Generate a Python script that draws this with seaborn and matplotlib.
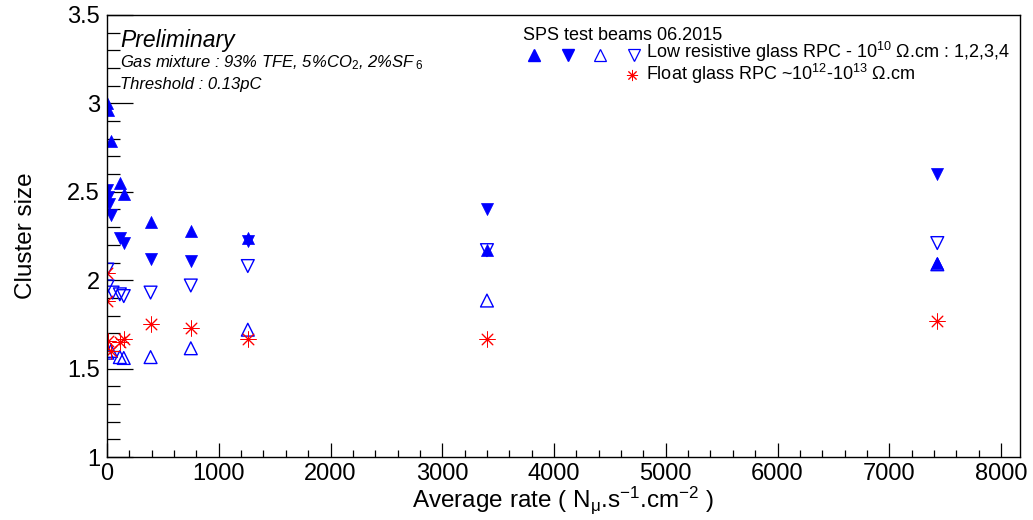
import numpy as np
import pandas as pd
import matplotlib
matplotlib.use('Agg')
import matplotlib.pyplot as plt
import seaborn as sns
from matplotlib.ticker import MultipleLocator, FormatStrFormatter

# Данные
rate_rpc1 = [3, 10, 35, 115, 150, 390, 750, 1260, 3400, 7430]
size_rpc1 = [3.00, 2.96, 2.79, 2.55, 2.49, 2.33, 2.28, 2.24, 2.17, 2.10]

rate_rpc2 = [3, 5, 18, 35, 115, 150, 390, 750, 1260, 3400, 7430]
size_rpc2 = [2.51, 2.47, 2.43, 2.37, 2.24, 2.21, 2.12, 2.11, 2.22, 2.40, 2.60]

rate_rpc3 = [3, 35, 115, 150, 390, 750, 1260, 3400, 7430]
size_rpc3 = [1.59, 1.60, 1.565, 1.56, 1.565, 1.615, 1.72, 1.885, 2.09]

rate_rpc4 = [3, 5, 50, 115, 150, 390, 750, 1260, 3400, 7430]
size_rpc4 = [2.06, 1.965, 1.93, 1.92, 1.91, 1.93, 1.97, 2.08, 2.17, 2.21]

rate_float = [3, 3, 10, 35, 115, 150, 390, 750, 1260, 3400, 7430]
size_float = [2.04, 1.88, 1.655, 1.60, 1.65, 1.67, 1.755, 1.73, 1.665, 1.665, 1.77]

sns.set_style('ticks')
plt.rcParams['font.family'] = ['Liberation Sans', 'DejaVu Sans']
plt.rcParams['text.color'] = 'black'
plt.rcParams['axes.labelcolor'] = 'black'
plt.rcParams['xtick.color'] = 'black'
plt.rcParams['ytick.color'] = 'black'
plt.rcParams['mathtext.fontset'] = 'custom'
plt.rcParams['mathtext.rm'] = 'Liberation Sans'
plt.rcParams['mathtext.it'] = 'Liberation Sans:italic'
plt.rcParams['mathtext.default'] = 'regular'

W, H = 1033, 520
fig = plt.figure(figsize=(W / 100, H / 100), dpi=100)
ax = fig.add_axes([107 / W, 1 - 457 / H, (1020 - 107) / W, (457 - 15) / H])

blue = '#0000ff'
red = '#ff0000'

# маркеры как в ROOT
star = (8, 2, 0)
series = [
    (rate_rpc1, size_rpc1, '^', dict(color=blue, edgecolor=blue, linewidth=0.5), 75),
    (rate_rpc2, size_rpc2, 'v', dict(color=blue, edgecolor=blue, linewidth=0.5), 75),
    (rate_rpc3, size_rpc3, '^', dict(facecolor='none', edgecolor=blue, linewidth=1.0), 85),
    (rate_rpc4, size_rpc4, 'v', dict(facecolor='none', edgecolor=blue, linewidth=1.0), 85),
    (rate_float, size_float, star, dict(color=red, edgecolor=red, linewidth=0.7), 120),
]
for xs, ys, m, kw, s in series:
    d = pd.DataFrame({'rate': xs, 'size': ys})
    sns.scatterplot(data=d, x='rate', y='size', marker=m, s=s, ax=ax, **kw)

ax.set_xlim(0, 8170)
ax.set_ylim(1, 3.5)

ax.xaxis.set_major_locator(MultipleLocator(1000))
ax.xaxis.set_minor_locator(MultipleLocator(200))
ax.yaxis.set_major_locator(MultipleLocator(0.5))
ax.yaxis.set_minor_locator(MultipleLocator(0.1))
ax.yaxis.set_major_formatter(FormatStrFormatter('%g'))

ax.tick_params(axis='x', which='major', direction='in', length=10, width=0.9,
               labelsize=17, pad=4)
ax.tick_params(axis='x', which='minor', direction='in', length=5, width=0.9)
ax.tick_params(axis='y', which='major', direction='in', length=19, width=0.9,
               labelsize=17, pad=5)
ax.tick_params(axis='y', which='minor', direction='in', length=9.5, width=0.9)
for sp in ax.spines.values():
    sp.set_linewidth(1.0)
    sp.set_color('black')

ax.set_xlabel(r'Average rate ( N$_{\mu}$.s$^{-1}$.cm$^{-2}$ )', fontsize=17.5, labelpad=0)
ax.set_ylabel('Cluster size', fontsize=17.5, labelpad=22)


def ftext(x, y, s, **kw):
    fig.text(x / W, 1 - y / H, s, va='baseline', ha='left', **kw)


ftext(120, 47, 'Preliminary', fontsize=16.5, style='italic')
ftext(120, 67, r'Gas mixture : 93% TFE, 5%CO$_{\mathit{2}}$, 2%SF$_{\ \mathit{6}}$',
      fontsize=12, style='italic')
ftext(120, 89, 'Threshold : 0.13pC', fontsize=12, style='italic')

# легенда
ftext(523, 40, 'SPS test beams 06.2015', fontsize=13)
leg_marks = [
    (534, 55, '^', dict(color=blue, markeredgecolor=blue)),
    (568, 55, 'v', dict(color=blue, markeredgecolor=blue)),
    (600, 55, '^', dict(markerfacecolor='none', markeredgecolor=blue, markeredgewidth=0.9)),
    (634, 55, 'v', dict(markerfacecolor='none', markeredgecolor=blue, markeredgewidth=0.9)),
    (632, 75, star, dict(color=red, markeredgecolor=red, markeredgewidth=0.7)),
]
for lx, ly, m, kw in leg_marks:
    fig.add_artist(plt.Line2D([lx / W], [1 - ly / H], marker=m, markersize=8,
                              linestyle='none', transform=fig.transFigure, **kw))
ftext(646, 58, r'Low resistive glass RPC - 10$^{10}$ $\Omega$.cm : 1,2,3,4', fontsize=13)
ftext(646, 80, r'Float glass RPC ~10$^{12}$-10$^{13}$ $\Omega$.cm', fontsize=13)

fig.savefig('out.png', dpi=100)
